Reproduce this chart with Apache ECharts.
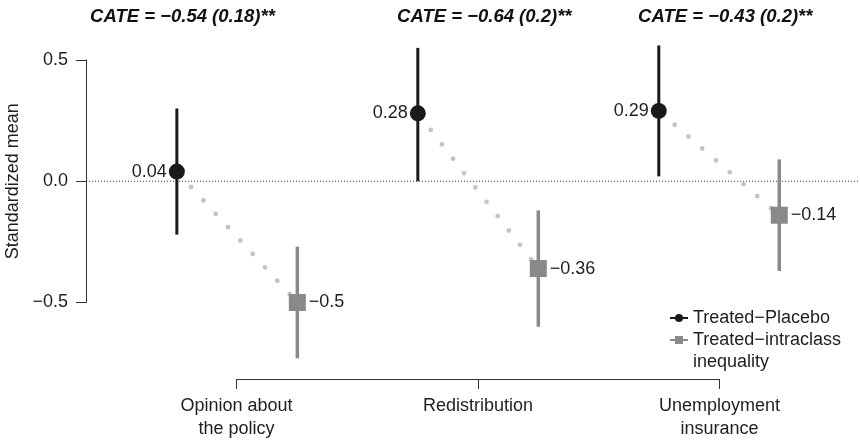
<!DOCTYPE html>
<html><head><meta charset="utf-8">
<script src="https://cdn.jsdelivr.net/npm/echarts@6/dist/echarts.min.js"></script>
<style>html,body{margin:0;padding:0;background:#fff}#c{width:860px;height:440px}</style>
</head><body><div id="c"></div>
<script>
// ---- data ----
const categories = ['Opinion about\nthe policy', 'Redistribution', 'Unemployment\ninsurance'];
const placeboMean = [0.04, 0.28, 0.29];
const placeboLow  = [-0.22, 0.00, 0.02];
const placeboHigh = [0.30, 0.55, 0.56];
const intraMean = [-0.50, -0.36, -0.14];
const intraLow  = [-0.73, -0.60, -0.37];
const intraHigh = [-0.27, -0.12, 0.09];
const cateLabels = ['CATE = \u22120.54 (0.18)**', 'CATE = \u22120.64 (0.2)**', 'CATE = \u22120.43 (0.2)**'];
const yTicks = [-0.5, 0.0, 0.5];
const seriesNames = ['Treated\u2212Placebo', 'Treated\u2212intraclass inequality'];

// ---- layout constants ----
const FONT = '"Liberation Sans", Arial, Helvetica, sans-serif';
const FS = 18;
const XMIN = 0.373, XMAX = 3.585;
const OFF = 0.25;
const titleX = [0.39, 1.664, 2.664];
const titleY = 0.676;
const BLACK = '#1a1a1a', GRAY = '#89898b', TXT = '#1e1e1e';

const fmt = v => (v < 0 ? '\u2212' : '') + String(Math.abs(v));

const chart = echarts.init(document.getElementById('c'), null, {renderer: 'canvas'});

const series = [];
// zero reference line
series.push({
  type: 'line', xAxisIndex: 0, yAxisIndex: 0, silent: true, symbol: 'none', z: 0,
  data: [[XMIN, 0], [XMAX, 0]],
  lineStyle: {color: '#333', width: 1, type: [1, 2]}
});
// connectors
categories.forEach((c, i) => {
  series.push({
    type: 'line', silent: true, symbol: 'none', z: 1, clip: false,
    data: [[i + 1 - OFF, placeboMean[i]], [i + 1 + OFF, intraMean[i]]],
    lineStyle: {color: '#c4c4c4', width: 4.8, type: [0, 18.2], dashOffset: 15.4, cap: 'round', opacity: 1}
  });
});
// whiskers
function whisker(color, w, xs, lo, hi) {
  return {
    type: 'custom', silent: true, z: 2, clip: false,
    data: xs.map((x, i) => [x, lo[i], hi[i]]),
    encode: {x: 0, y: [1, 2]},
    renderItem: (params, api) => {
      const p1 = api.coord([api.value(0), api.value(1)]);
      const p2 = api.coord([api.value(0), api.value(2)]);
      return {type: 'line', shape: {x1: p1[0], y1: p1[1], x2: p2[0], y2: p2[1]},
              style: {stroke: color, lineWidth: w}};
    }
  };
}
series.push(whisker(BLACK, 3, categories.map((c, i) => i + 1 - OFF), placeboLow, placeboHigh));
series.push(whisker(GRAY, 3.5, categories.map((c, i) => i + 1 + OFF), intraLow, intraHigh));
// points
series.push({
  name: seriesNames[0], type: 'scatter', symbol: 'circle', symbolSize: 16, z: 3, clip: false,
  itemStyle: {color: BLACK, opacity: 1},
  data: placeboMean.map((v, i) => [i + 1 - OFF, v]),
  label: {show: true, position: 'left', distance: 2, fontSize: FS, color: TXT, fontFamily: FONT,
          formatter: p => fmt(p.value[1])}
});
series.push({
  name: seriesNames[1], type: 'scatter', symbol: 'rect', symbolSize: 17, z: 3, clip: false,
  itemStyle: {color: GRAY, opacity: 1},
  data: intraMean.map((v, i) => [i + 1 + OFF, v]),
  label: {show: true, position: 'right', distance: 3, fontSize: FS, color: TXT, fontFamily: FONT,
          formatter: p => fmt(p.value[1])}
});
// CATE annotations
series.push({
  type: 'custom', silent: true, z: 4, clip: false,
  data: cateLabels.map((t, i) => [titleX[i], titleY]),
  renderItem: (params, api) => {
    const p = api.coord([api.value(0), api.value(1)]);
    return {type: 'text', x: p[0], y: p[1],
            style: {text: cateLabels[params.dataIndex], fontSize: 18.5, fontWeight: 'bold', fontStyle: 'italic',
                    fontFamily: FONT, fill: '#111', align: 'left', verticalAlign: 'middle'}};
  }
});

const option = {
  animation: false,
  backgroundColor: '#fff',
  textStyle: {fontFamily: FONT},
  grid: [
    {left: 86, right: 0, top: 60, bottom: 137.5, containLabel: false, outerBoundsMode: 'none'},
    {left: 236.5, right: 140.5, top: 370, bottom: 61, containLabel: false, outerBoundsMode: 'none'}
  ],
  xAxis: [
    {gridIndex: 0, type: 'value', min: XMIN, max: XMAX, show: false},
    {gridIndex: 1, type: 'value', min: 1, max: 3, interval: 1, position: 'bottom',
     axisLine: {show: true, lineStyle: {color: '#333', width: 1}},
     axisTick: {show: true, length: 10, lineStyle: {color: '#333', width: 1}},
     splitLine: {show: false},
     axisLabel: {margin: 16, fontSize: FS, lineHeight: 23, color: TXT, fontFamily: FONT,
                 formatter: v => categories[Math.round(v) - 1] || ''}}
  ],
  yAxis: [
    {gridIndex: 0, type: 'value', min: yTicks[0], max: yTicks[yTicks.length - 1], interval: 0.5,
     axisLine: {show: true, lineStyle: {color: '#333', width: 1}},
     axisTick: {show: true, length: 10, lineStyle: {color: '#333', width: 1}},
     splitLine: {show: false},
     axisLabel: {margin: 18, fontSize: FS, color: TXT, fontFamily: FONT,
                 formatter: v => (v < 0 ? '\u2212' : '') + Math.abs(v).toFixed(1)},
     name: 'Standardized mean', nameLocation: 'middle', nameGap: 60,
     nameTextStyle: {fontSize: FS, color: TXT, fontFamily: FONT}},
    {gridIndex: 1, type: 'value', show: false}
  ],
  legend: [
    {data: [{name: seriesNames[0],
             icon: 'path://M0 3 L18 3 L18 5 L0 5 Z M5 4 A4 4 0 1 1 13 4 A4 4 0 1 1 5 4 Z'}],
     orient: 'vertical', left: 665, top: 302, itemWidth: 18, itemHeight: 8, selectedMode: false,
     itemStyle: {opacity: 1},
     textStyle: {fontSize: FS, lineHeight: 22, color: TXT, fontFamily: FONT}},
    {data: [{name: seriesNames[1],
             icon: 'path://M9 0 M0 3 L18 3 L18 5 L0 5 Z M5 0 L13 0 L13 8 L5 8 Z M9 30'}],
     orient: 'vertical', left: 665, top: 324, itemWidth: 18, itemHeight: 30, selectedMode: false,
     itemStyle: {opacity: 1},
     formatter: () => 'Treated\u2212intraclass\ninequality',
     textStyle: {fontSize: FS, lineHeight: 22, color: TXT, fontFamily: FONT}}
  ],
  series: series
};
chart.setOption(option);
</script>
</body></html>
